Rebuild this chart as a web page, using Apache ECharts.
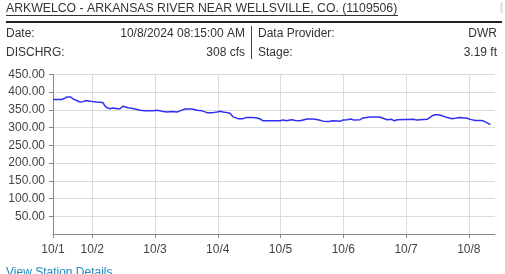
<!DOCTYPE html>
<html>
<head>
<meta charset="utf-8">
<script src="https://cdn.jsdelivr.net/npm/echarts@6/dist/echarts.min.js"></script>
<style>
html,body{margin:0;padding:0;background:#fff;}
#c{width:505px;height:274px;}
</style>
</head>
<body>
<div id="c"></div>
<script>
var titleText = 'ARKWELCO - ARKANSAS RIVER NEAR WELLSVILLE, CO. (1109506)';
var infoLeft = [['Date:', '10/8/2024 08:15:00 AM'], ['DISCHRG:', '308 cfs']];
var infoRight = [['Data Provider:', 'DWR'], ['Stage:', '3.19 ft']];
var linkText = 'View Station Details';

var times = ['10/1 09:00','10/1 12:20','10/1 12:56','10/1 13:35','10/1 14:21','10/1 15:46','10/1 16:46','10/1 18:04','10/1 19:19','10/1 19:58','10/1 20:30','10/1 21:37','10/1 22:10','10/1 23:10',
 '10/2 00:25','10/2 01:40','10/2 02:58','10/2 04:07','10/2 04:53','10/2 05:55','10/2 06:49','10/2 08:00','10/2 08:40','10/2 09:29','10/2 09:52','10/2 10:38','10/2 11:40','10/2 11:58','10/2 13:41','10/2 14:27','10/2 16:22','10/2 18:17','10/2 20:11','10/2 23:15',
 '10/3 00:47','10/3 02:41','10/3 04:36','10/3 06:30','10/3 07:00','10/3 08:25','10/3 09:34','10/3 11:29','10/3 14:10','10/3 16:05','10/3 18:00','10/3 19:54','10/3 22:12','10/3 23:44',
 '10/4 00:53','10/4 02:02','10/4 03:33','10/4 04:42','10/4 05:51','10/4 07:46','10/4 09:40','10/4 10:50','10/4 13:08','10/4 13:31','10/4 15:03','10/4 16:10','10/4 17:20','10/4 21:55','10/4 23:50',
 '10/5 00:59','10/5 01:30','10/5 02:15','10/5 03:40','10/5 04:30','10/5 05:35','10/5 07:29','10/5 10:10','10/5 12:27','10/5 14:22','10/5 16:17','10/5 18:30','10/5 20:00','10/5 22:48','10/5 23:57',
 '10/6 01:28','10/6 03:00','10/6 04:00','10/6 06:26','10/6 07:35','10/6 10:16','10/6 12:56','10/6 14:05','10/6 16:00','10/6 16:46','10/6 17:30','10/6 18:30','10/6 19:30','10/6 20:36','10/6 20:59',
 '10/7 03:00','10/7 04:00','10/7 08:04','10/7 08:27','10/7 09:59','10/7 11:08','10/7 12:17','10/7 13:48','10/7 15:43','10/7 17:38','10/7 18:47','10/7 20:30','10/7 21:10','10/7 23:22',
 '10/8 00:31','10/8 02:26','10/8 04:21','10/8 05:30','10/8 07:02','10/8 08:15'];
var flows = [379,379,375,383,386,386,380,376,372,375,373,376,374,374,
 373,372,371,370,360,355,353,355,352,353,356,353,360,356,356,355,352,349,347,347,
 349,346,344,345,343,344,347,352,352,349,347,342,342,344,
 346,344,342,340,330,325,325,328,328,330,327,324,319,319,319,
 321,323,319,321,322,320,319,324,324,322,318,317,319,318,321,
 322,324,321,322,327,330,330,329,324,322,320,323,319,322,323,
 323,321,323,325,333,336,336,333,328,325,326,328,326,326,
 323,320,320,319,313,308];

var tickTimes = ['10/1 09:00','10/2 00:00','10/3 00:00','10/4 00:00','10/5 00:00','10/6 00:00','10/7 00:00','10/8 00:00'];
var tickLabels = ['10/1','10/2','10/3','10/4','10/5','10/6','10/7','10/8'];
var axisStart = '10/1 09:00';
var axisEnd = '10/8 10:00';
var yMin = 0, yMax = 450, yStep = 50;

function toDays(s) {
  var p = s.split(' ');
  var md = p[0].split('/');
  var hm = p[1].split(':');
  return (parseInt(md[1], 10) - 1) + parseInt(hm[0], 10) / 24 + parseInt(hm[1], 10) / 1440;
}

var seriesData = times.map(function (t, i) { return [toDays(t), flows[i]]; });
var tickVals = tickTimes.map(toDays);

var FONT = '"Liberation Sans", Arial, sans-serif';
var TXT = '#333';

var graphics = [];
graphics.push({ type: 'text', left: 6, top: 3, style: { text: titleText, font: '12.25px ' + FONT, fill: '#333' } });
graphics.push({ type: 'line', shape: { x1: 6, y1: 15.5, x2: 398, y2: 15.5 }, style: { stroke: '#333', lineWidth: 1 } });
graphics.push({ type: 'line', shape: { x1: 6, y1: 22, x2: 502, y2: 22 }, style: { stroke: '#222', lineWidth: 2 } });
graphics.push({ type: 'line', shape: { x1: 251.5, y1: 26, x2: 251.5, y2: 59 }, style: { stroke: '#444', lineWidth: 1 } });
graphics.push({ type: 'rect', shape: { x: 500.5, y: 2, width: 2, height: 11 }, style: { fill: '#ddd' } });
var rowY = [33.5, 52.5];
infoLeft.forEach(function (r, i) {
  graphics.push({ type: 'text', x: 6, y: rowY[i], style: { text: r[0], font: '12px ' + FONT, fill: TXT, verticalAlign: 'middle', align: 'left' } });
  graphics.push({ type: 'text', x: 245, y: rowY[i], style: { text: r[1], font: '12px ' + FONT, fill: TXT, verticalAlign: 'middle', align: 'right' } });
});
infoRight.forEach(function (r, i) {
  graphics.push({ type: 'text', x: 258, y: rowY[i], style: { text: r[0], font: '12px ' + FONT, fill: TXT, verticalAlign: 'middle', align: 'left' } });
  graphics.push({ type: 'text', x: 497, y: rowY[i], style: { text: r[1], font: '12px ' + FONT, fill: TXT, verticalAlign: 'middle', align: 'right' } });
});
graphics.push({ type: 'text', x: 6, y: 267, style: { text: linkText, font: '12px ' + FONT, fill: '#1a8ac4', verticalAlign: 'top' } });

var chart = echarts.init(document.getElementById('c'), null, { renderer: 'canvas' });
chart.setOption({
  animation: false,
  backgroundColor: '#fff',
  grid: { left: 53, right: 10, top: 74.3, bottom: 40, containLabel: false },
  xAxis: {
    type: 'value',
    min: toDays(axisStart),
    max: toDays(axisEnd),
    axisLine: { show: true, lineStyle: { color: '#888', width: 1 } },
    axisTick: { show: true, length: 4, customValues: tickVals, lineStyle: { color: '#888' } },
    axisLabel: {
      customValues: tickVals,
      margin: 10,
      color: '#444',
      fontSize: 12,
      fontFamily: FONT,
      formatter: function (v) {
        for (var i = 0; i < tickVals.length; i++) { if (Math.abs(tickVals[i] - v) < 1e-6) return tickLabels[i]; }
        return '';
      }
    },
    splitLine: { show: true, lineStyle: { color: '#dcdcdc', width: 1 } }
  },
  yAxis: {
    type: 'value',
    min: yMin, max: yMax, interval: yStep,
    axisLine: { show: true, lineStyle: { color: '#888', width: 1 } },
    axisTick: { show: true, length: 4, lineStyle: { color: '#888' } },
    axisLabel: {
      showMinLabel: false,
      margin: 8,
      color: '#444',
      fontSize: 12,
      fontFamily: FONT,
      formatter: function (v) { return v.toFixed(2); }
    },
    splitLine: { show: true, lineStyle: { color: '#dcdcdc', width: 1 } }
  },
  series: [{
    type: 'line',
    data: seriesData,
    showSymbol: false,
    symbol: 'none',
    lineStyle: { color: '#2f2ff2', width: 1.5 },
    z: 3
  }],
  graphic: graphics
});
</script>
</body>
</html>
